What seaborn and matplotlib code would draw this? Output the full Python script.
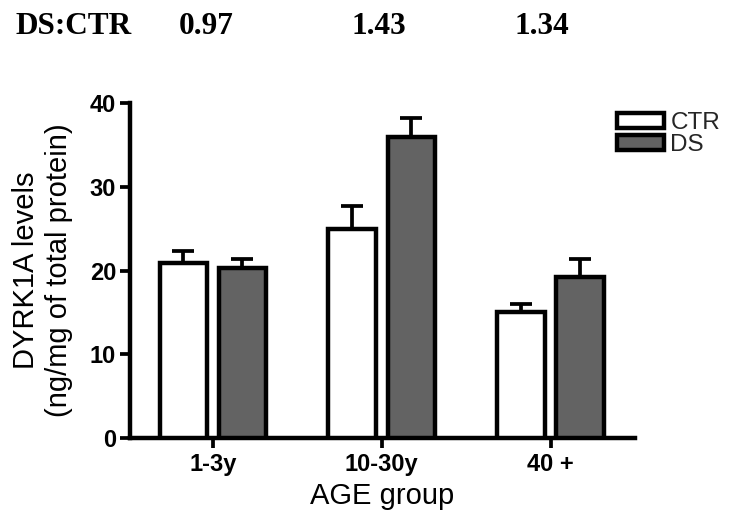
import matplotlib
matplotlib.use("Agg")
import matplotlib.pyplot as plt
import seaborn as sns
import pandas as pd
import numpy as np

# ---- data ----
age_groups = ["1-3y", "10-30y", "40 +"]
groups = ["CTR", "DS"]
ctr_mean = [20.9, 25.0, 15.1]
ds_mean = [20.3, 35.9, 19.2]
ctr_sem = [1.4, 2.7, 0.9]
ds_sem = [1.1, 2.3, 2.2]
ratio_labels = ["0.97", "1.43", "1.34"]
y_ticks = [0, 10, 20, 30, 40]

df = pd.DataFrame({
    "age": age_groups * 2,
    "group": ["CTR"] * 3 + ["DS"] * 3,
    "value": ctr_mean + ds_mean,
    "sem": ctr_sem + ds_sem,
})

sns.set_theme(style="white")
plt.rcParams["font.family"] = ["Liberation Sans", "DejaVu Sans"]

fig = plt.figure(figsize=(7.38, 5.27), dpi=100)
ax = fig.add_axes([130 / 738, 1 - 438 / 527, (635 - 130) / 738, (438 - 103) / 527])

LW = 3.2
palette = {"CTR": "#ffffff", "DS": "#636363"}
sns.barplot(data=df, x="age", y="value", hue="group", hue_order=groups,
            order=age_groups, palette=palette, width=0.7, gap=0.2,
            edgecolor="black", linewidth=LW, errorbar=None, ax=ax,
            saturation=1, zorder=3)

# error bars (upper only) at the centres of the drawn bars
bars = [p for p in ax.patches if p.get_height() > 0]
bars = sorted(bars, key=lambda p: p.get_x())
for p in bars:
    xc = p.get_x() + p.get_width() / 2
    h = p.get_height()
    row = df[np.isclose(df["value"], h)].iloc[0]
    ax.errorbar(xc, h, yerr=[[0], [row["sem"]]], fmt="none", ecolor="black",
                elinewidth=2.7, capsize=8, capthick=2.7, zorder=2)

ax.set_xlim(-0.49, 2.50)
ax.set_ylim(0, 40)
ax.set_yticks(y_ticks)
sns.despine(ax=ax)
for s in ["left", "bottom"]:
    ax.spines[s].set_linewidth(LW)
    ax.spines[s].set_color("black")
ax.tick_params(axis="y", length=7, width=2.7, direction="out", left=True,
               labelsize=17, pad=3, colors="black")
ax.tick_params(axis="x", length=7, width=2.7, direction="out", bottom=True,
               labelsize=17, pad=4, colors="black")
for lab in ax.get_xticklabels() + ax.get_yticklabels():
    lab.set_fontweight("bold")

ax.set_xlabel("AGE group", fontsize=21, labelpad=4, color="black")
ax.set_ylabel("DYRK1A levels\n(ng/mg of total protein)", fontsize=21,
              labelpad=12, color="black", linespacing=1.25)

# legend
handles, labels = ax.get_legend_handles_labels()
ax.legend(handles, labels, loc="upper left",
          bbox_to_anchor=(617 / 738, 1 - 112 / 527),
          bbox_transform=fig.transFigure, frameon=False, fontsize=17.5,
          handlelength=1.95, handleheight=0.6, handletextpad=0.25,
          labelspacing=0.0, borderpad=0, borderaxespad=0)

# ratio annotations at top
serif = ["Liberation Serif", "DejaVu Serif"]
fig.text(15 / 738, 1 - 27 / 527, "DS:CTR", family=serif, fontweight="bold",
         fontsize=22.5, ha="left", va="center", color="black")
ratio_x = [206, 379, 542]
for xr, t in zip(ratio_x, ratio_labels):
    fig.text(xr / 738, 1 - 27 / 527, t, family=serif, fontweight="bold",
             fontsize=22.5, ha="center", va="center", color="black")

fig.savefig("out.png", dpi=100)
